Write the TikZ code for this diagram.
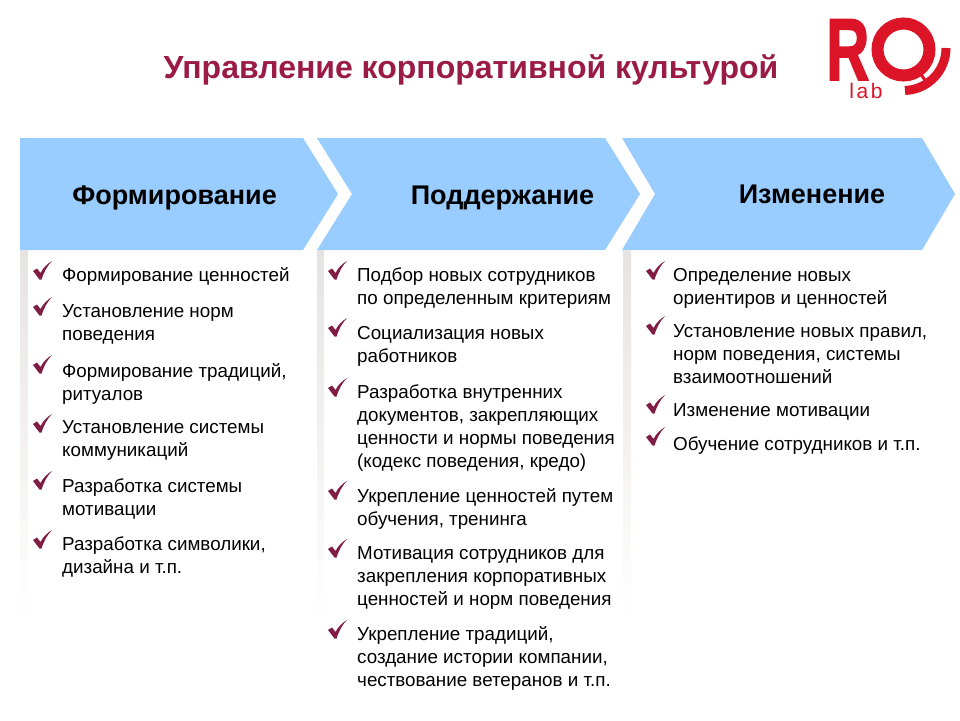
\documentclass[tikz,border=0pt]{standalone}
\usepackage{fontspec}
\setmainfont{Liberation Sans}
\usepackage{xcolor}
\definecolor{headblue}{HTML}{99CCFF}
\definecolor{stripgray}{HTML}{E6E4E2}
\definecolor{titlered}{HTML}{9A1B45}
\definecolor{tickred}{HTML}{7F1D45}
\definecolor{logored}{HTML}{DC1428}
\tikzset{
  chevron/.style={fill=headblue,draw=none},
  strip/.style={top color=stripgray,bottom color=white,draw=none},
  heading/.style={anchor=base,inner sep=0pt,font=\bfseries\fontsize{27}{30}\selectfont},
  itemtext/.style={anchor=north west,inner sep=0pt,align=left,
    font=\fontsize{18.8}{23}\selectfont,execute at begin node=\strut},
  chk/.pic={
    \fill[tickred] (0,10) -- (4,7.5) -- (7.5,12) .. controls (10,7) and (14,3) .. (19,0)
      .. controls (14,5) and (11,11) .. (8.5,18.5) -- (6.5,18.5) -- cycle;
  },
}
\begin{document}
\begin{tikzpicture}[x=1pt,y=-1pt]
\useasboundingbox (0,0) rectangle (960,720);

% title and logo
\node[anchor=base,inner sep=0pt,text=titlered,font=\bfseries\fontsize{32}{36}\selectfont]
  (title) at (471,78) {Управление корпоративной культурой};
\node[anchor=base west,inner sep=0pt,text=logored,transform shape,xscale=0.68,
  font=\bfseries\fontsize{88}{88}\selectfont\addfontfeature{FakeBold=2}] (logoR) at (826,80) {R};
\draw[logored,line width=12pt] (903.5,49.5) circle (26);
\draw[logored,line width=9pt] (946,48) arc (0:88:42.5);
\draw[logored,line width=3pt] (920.7,74) -- (926.4,82.3);
\node[anchor=base,inner sep=0pt,text=logored,font=\fontsize{21}{21}\selectfont\addfontfeature{LetterSpace=12}]
  (logolab) at (866,98) {lab};

% header arrows
\fill[chevron] (20,138) -- (303,138) -- (338,194) -- (303,250) -- (20,250) -- cycle;
\fill[chevron] (317,138) -- (605,138) -- (640,194) -- (605,250) -- (317,250) -- (352,194) -- cycle;
\fill[chevron] (622,138) -- (922,138) -- (955,194) -- (922,250) -- (622,250) -- (655,194) -- cycle;
\node[heading] (form) at (174.5,204) {Формирование};
\node[heading] (supp) at (502.5,204) {Поддержание};
\node[heading] (chan) at (812,203) {Изменение};

% fading side strips
\shade[strip] (20,250) rectangle (28,620);
\shade[strip] (317,250) rectangle (324,620);
\shade[strip] (623,250) rectangle (631,620);

% first column
\foreach \nm/\ty/\cy/\txt in {
  fa/261/265/{Формирование ценностей},
  fb/297/304/{Установление норм\\поведения},
  fc/355/363/{Формирование традиций,\\ритуалов},
  fd/414/420/{Установление системы\\коммуникаций},
  fe/471/479/{Разработка системы\\мотивации},
  ff/530/537/{Разработка символики,\\дизайна и т.п.}}{
  \pic at (33,\ty) {chk};
  \node[itemtext] (\nm) at (62,\cy) {\txt};
}

% second column
\foreach \nm/\ty/\cy/\txt in {
  sa/261/268/{Подбор новых сотрудников\\по определенным критериям},
  sb/318/326/{Социализация новых\\работников},
  sc/378/385/{Разработка внутренних\\документов, закрепляющих\\ценности и нормы поведения\\(кодекс поведения, кредо)},
  sd/481/488/{Укрепление ценностей путем\\обучения, тренинга},
  se/539/546/{Мотивация сотрудников для\\закрепления корпоративных\\ценностей и норм поведения},
  sf/620/626/{Укрепление традиций,\\создание истории компании,\\чествование ветеранов и т.п.}}{
  \pic at (328,\ty) {chk};
  \node[itemtext] (\nm) at (357,\cy) {\txt};
}

% third column
\foreach \nm/\ty/\cy/\txt in {
  ta/261/268/{Определение новых\\ориентиров и ценностей},
  tb/316/324/{Установление новых правил,\\норм поведения, системы\\взаимоотношений},
  tc/395/400/{Изменение мотивации},
  td/427/434/{Обучение сотрудников и т.п.}}{
  \pic at (646,\ty) {chk};
  \node[itemtext] (\nm) at (673,\cy) {\txt};
}
\end{tikzpicture}
\end{document}
